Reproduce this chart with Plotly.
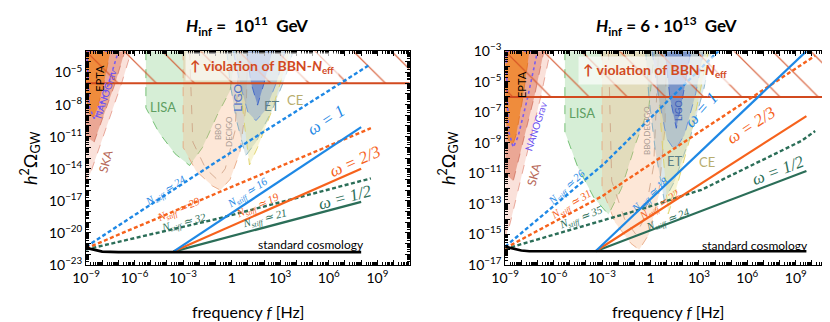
import plotly.graph_objects as go

# ----------------------------- data (log10 values) -----------------------------
# x: log10(f / Hz), y: log10(h^2 Omega_GW)
X_RANGE = [-9, 11]
Y_RANGE_L = [-23, -3]
Y_RANGE_R = [-17, -3]
BBN_LEVEL = -6.0

# left panel  H_inf = 1e11 GeV
L_std_x = [-9, -8.5, -8, -7, 8.0]
L_std_y = [-21.4, -21.6, -21.75, -21.8, -21.8]
L_w1_x, L_w1_y = [-3.6, 8.0], [-21.75, -10.1]
L_w23_x, L_w23_y = [-3.6, 8.0], [-21.75, -14.0]
L_w12_x, L_w12_y = [-3.6, 8.0], [-21.75, -17.1]
L_w1d_x, L_w1d_y = [-9, -0.9, 8.5], [-21.3, -13.3, -4.3]
L_w23d_x, L_w23d_y = [-9, 8.6], [-21.45, -10.2]
L_w12d_x, L_w12d_y = [-9, -0.93, 8.6], [-21.55, -18.7, -14.9]

# right panel  H_inf = 6e13 GeV
R_std_x = [-9, -8.5, -8, -7.5, 9.66]
R_std_y = [-15.8, -15.95, -16.05, -16.1, -16.1]
R_w1_x, R_w1_y = [-3.4, 9.66], [-16.1, -3.0]
R_w23_x, R_w23_y = [-3.4, 9.66], [-16.1, -7.25]
R_w12_x, R_w12_y = [-3.4, 9.66], [-16.1, -10.85]
R_w1d_x, R_w1d_y = [-9, -2.9, 4.2], [-15.8, -10.4, -3.0]
R_w23d_x, R_w23d_y = [-9, -3.0, 3.16, 10.2], [-15.9, -12.5, -8.2, -3.3]
R_w12d_x, R_w12d_y = [-9, -8.36, -0.93, 3.16, 9.35, 10.2], [-16.0, -15.75, -13.46, -12.08, -8.88, -8.23]

# detector sensitivity regions (log10 f, log10 h^2 Omega)
EPTA_x = [-9, -7.5, -7.9, -8.3, -8.55, -8.8, -9]
EPTA_y = [-3, -3, -6, -8.4, -9.2, -8.8, -7]
NANO_x = [-8.95, -7.0, -7.6, -8.2, -8.5, -8.8, -8.95]
NANO_y = [-3, -3, -6, -8.6, -9.3, -8.2, -3]
SKA_x = [-9, -6.2, -6.8, -7.5, -8.2, -8.7, -8.95, -9]
SKA_y = [-3, -3, -6, -9, -12, -14.3, -15.1, -14]
SKAi_x = [-9, -6.6, -7.2, -7.9, -8.5, -9]
SKAi_y = [-3, -3, -6, -9, -11.5, -11]
LISA_x = [-5.3, -5.3, -4.5, -3.5, -2.6, -1.8, -0.9, -0.1, 0.25]
LISA_y = [-3, -8.3, -10.6, -12.6, -13.7, -12.0, -9.0, -6.7, -3]
BBO_x = [-3.0, -3.0, -2.2, -1.2, -0.7, -0.1, 0.5, 0.9, 1.0]
BBO_y = [-3, -12.0, -14.2, -15.6, -16.0, -15.0, -12.5, -8.0, -3]
BBOi_x = [-2.6, -2.4, -1.6, -0.9, -0.4, 0.2, 0.5]
BBOi_y = [-3, -11.5, -14.0, -15.0, -14.0, -10.5, -3]
ET_x = [-0.3, -0.1, 0.3, 0.86, 1.5, 2.5, 3.3, 3.8]
ET_y = [-3, -6, -9.5, -12.8, -11.5, -8.5, -5.5, -3]
CE_x = [0.3, 0.5, 0.8, 1.1, 1.6, 2.5, 3.2, 3.6]
CE_y = [-3, -6, -10, -13.65, -12, -8.5, -5, -3]
LIGO_x = [0.1, 0.5, 1.0, 1.5, 2.1, 2.8, 3.3]
LIGO_y = [-3, -6, -8.7, -9.5, -8.5, -5.8, -3]
LIGOi_x = [0.9, 1.2, 1.6, 2.0, 2.5]
LIGOi_y = [-3, -6, -8.05, -6, -3]

BLUE, ORANGE, GREEN = "#1e88e5", "#f6621c", "#2b6e58"
RED = "#d24a1f"

fig = go.Figure()


def pts(xs, ys):
    return [10 ** v for v in xs], [10 ** v for v in ys]


def region(xs, ys, fill, line, ax, dash="dash", width=1):
    x, y = pts(xs, ys)
    fig.add_trace(go.Scatter(x=x, y=y, mode="lines", fill="toself", fillcolor=fill,
                             line=dict(color=line, width=width, dash=dash),
                             xaxis=ax[0], yaxis=ax[1], showlegend=False, hoverinfo="skip"))


def curve(xs, ys, color, ax, dash="solid", width=2.2):
    x, y = pts(xs, ys)
    fig.add_trace(go.Scatter(x=x, y=y, mode="lines", line=dict(color=color, width=width, dash=dash),
                             xaxis=ax[0], yaxis=ax[1], showlegend=False, hoverinfo="skip"))


panels = [
    (("x", "y"), Y_RANGE_L,
     [(L_std_x, L_std_y), (L_w1_x, L_w1_y), (L_w23_x, L_w23_y), (L_w12_x, L_w12_y),
      (L_w1d_x, L_w1d_y), (L_w23d_x, L_w23d_y), (L_w12d_x, L_w12d_y)]),
    (("x2", "y2"), Y_RANGE_R,
     [(R_std_x, R_std_y), (R_w1_x, R_w1_y), (R_w23_x, R_w23_y), (R_w12_x, R_w12_y),
      (R_w1d_x, R_w1d_y), (R_w23d_x, R_w23d_y), (R_w12d_x, R_w12d_y)]),
]

for ax, yr, lines in panels:
    region(SKA_x, SKA_y, "rgba(240,170,150,0.35)", "rgba(220,120,100,0.6)", ax)
    region(SKAi_x, SKAi_y, "rgba(220,110,80,0.5)", "rgba(200,90,70,0.6)", ax)
    region(EPTA_x, EPTA_y, "rgba(240,135,45,0.85)", "rgba(230,120,40,0.9)", ax)
    region(NANO_x, NANO_y, "rgba(0,0,0,0)", "#7a5cf0", ax, dash="dot", width=1.6)
    region(LISA_x, LISA_y, "rgba(120,200,120,0.3)", "rgba(90,180,90,0.8)", ax)
    region(BBO_x, BBO_y, "rgba(250,185,140,0.35)", "rgba(230,160,120,0.8)", ax)
    region(BBOi_x, BBOi_y, "rgba(0,0,0,0)", "rgba(200,150,120,0.7)", ax)
    region(ET_x, ET_y, "rgba(110,160,170,0.25)", "rgba(100,160,190,0.7)", ax)
    region(CE_x, CE_y, "rgba(230,220,110,0.3)", "rgba(220,205,90,0.8)", ax)
    region(LIGO_x, LIGO_y, "rgba(90,130,215,0.3)", "rgba(80,130,220,0.7)", ax)
    region(LIGOi_x, LIGOi_y, "rgba(50,90,200,0.45)", "rgba(50,90,200,0.8)", ax)
    # BBN hatched region
    bx, by = pts([X_RANGE[0], X_RANGE[1], X_RANGE[1], X_RANGE[0]],
                 [BBN_LEVEL, BBN_LEVEL, yr[1], yr[1]])
    fig.add_trace(go.Scatter(x=bx, y=by, mode="lines", fill="toself", fillcolor="rgba(0,0,0,0)",
                             fillpattern=dict(shape="\\", fgcolor=RED, fgopacity=0.8,
                                              bgcolor="rgba(0,0,0,0)", size=27, solidity=0.045),
                             line=dict(width=0), xaxis=ax[0], yaxis=ax[1],
                             showlegend=False, hoverinfo="skip"))
    curve([X_RANGE[0], X_RANGE[1]], [BBN_LEVEL, BBN_LEVEL], RED, ax, width=2)
    std, w1, w23, w12, w1d, w23d, w12d = lines
    curve(*w12d, GREEN, ax, dash="4px,2.5px", width=2.4)
    curve(*w23d, ORANGE, ax, dash="4px,2.5px", width=2.4)
    curve(*w1d, BLUE, ax, dash="4px,2.5px", width=2.4)
    curve(*w12, GREEN, ax)
    curve(*w23, ORANGE, ax)
    curve(*w1, BLUE, ax)
    curve(*std, "black", ax, width=2.6)


def sup(k):
    if k == 0:
        return "1"
    return "10<sup>" + ("\u2212" + str(-k) if k < 0 else str(k)) + "</sup>"


xt = list(range(X_RANGE[0], X_RANGE[1] + 1))
xaxis_common = dict(type="log", range=X_RANGE, showgrid=False, zeroline=False, automargin=False,
                    showline=True, linecolor="black", linewidth=1, mirror="allticks",
                    ticks="inside", ticklen=5, tickcolor="black",
                    tickvals=[10 ** k for k in xt],
                    ticktext=[sup(k) if k % 3 == 0 and k <= 9 else "" for k in xt],
                    tickfont=dict(family="Lato", size=14, color="black"),
                    minor=dict(ticks="inside", ticklen=2.5, dtick="D1", tickcolor="black", showgrid=False))


def yaxis(yr, labels):
    yt = list(range(yr[0], yr[1] + 1))
    return dict(type="log", range=yr, showgrid=False, zeroline=False, automargin=False,
                showline=True, linecolor="black", linewidth=1, mirror="allticks",
                ticks="inside", ticklen=5, tickcolor="black",
                tickvals=[10 ** k for k in yt],
                ticktext=[sup(k) if k in labels else "" for k in yt],
                tickfont=dict(family="Lato", size=14, color="black"),
                minor=dict(ticks="inside", ticklen=2.5, dtick="D1", tickcolor="black", showgrid=False),
                domain=[0.202, 0.866])


fig.update_layout(
    width=830, height=322, margin=dict(l=0, r=0, t=0, b=0),
    paper_bgcolor="white", plot_bgcolor="white",
    xaxis=dict(xaxis_common, domain=[0.094, 0.484], anchor="y"),
    xaxis2=dict(xaxis_common, domain=[0.599, 0.988], anchor="y2"),
    yaxis=dict(yaxis(Y_RANGE_L, [-5, -8, -11, -14, -17, -20, -23]), anchor="x"),
    yaxis2=dict(yaxis(Y_RANGE_R, [-3, -5, -7, -9, -11, -13, -15, -17]), anchor="x2"),
)

ann = []


def label(ax, x, y, text, color, size=11, angle=0, family="Lato", italic=False, bold=False, **kw):
    d = dict(xref=ax[0], yref=ax[1], x=x, y=y, text=("<b>%s</b>" % text) if bold else text,
             showarrow=False, textangle=angle,
             font=dict(family=family, size=size, color=color, style="italic" if italic else "normal"))
    d.update(kw)
    ann.append(d)


N = "<i>N</i><sub>stiff</sub> \u2243 "
SER = "Liberation Serif"
AL, AR = ("x", "y"), ("x2", "y2")
# left labels
label(AL, -4.07, -16.1, N + "24", BLUE, 11, -33, SER, True)
label(AL, -3.27, -17.9, N + "29", ORANGE, 11, -23, SER, True)
label(AL, -2.96, -19.1, N + "32", GREEN, 11, -14, SER, True)
label(AL, 1.0, -16.3, N + "16", BLUE, 11, -33, SER, True)
label(AL, 1.6, -17.5, N + "19", ORANGE, 11, -24, SER, True)
label(AL, 2.0, -18.7, N + "21", GREEN, 11, -15, SER, True)
label(AL, 5.8, -9.5, "\u03c9 = 1", BLUE, 17, -33, SER, True)
label(AL, 7.6, -13.3, "\u03c9 = 2/3", ORANGE, 17, -24, SER, True)
label(AL, 7.0, -16.7, "\u03c9 = 1/2", GREEN, 17, -15, SER, True)
label(AL, 4.9, -21.1, "standard cosmology", "black", 12)
label(AL, -4.26, -8.2, "LISA", "#5e9e62", 13)
label(AL, -0.5, -10.5, "BBO<br>DECIGO", "#a89a92", 8, -90)
label(AL, 0.37, -7.4, "LIGO", "#4f70c8", 12, -90)
label(AL, 2.5, -8.1, "ET", "#5c7f86", 13)
label(AL, 3.9, -7.6, "CE", "#b8ad6e", 13)
label(AL, -8.15, -5.5, "EPTA", "black", 11, -90)
label(AL, -7.8, -6.9, "NANOGrav", "#6a4ff0", 10, -72)
label(AL, -7.8, -13.3, "SKA", "#b86a5a", 12, -75)
label(AL, 1.9, -4.4, "\u2191 violation of BBN-<i>N</i><sub>eff</sub>", RED, 14, bold=True,
      bgcolor="rgba(255,255,255,0.65)", borderpad=4)
# right labels
label(AR, -5.2, -11.95, N + "26", BLUE, 11, -43, SER, True)
label(AR, -4.9, -13.1, N + "31", ORANGE, 11, -32, SER, True)
label(AR, -4.33, -13.9, N + "35", GREEN, 11, -21, SER, True)
label(AR, 0.0, -12.4, N + "18", BLUE, 11, -43, SER, True)
label(AR, 0.6, -13.1, N + "22", ORANGE, 11, -33, SER, True)
label(AR, 1.1, -14.05, N + "24", GREEN, 11, -21, SER, True)
label(AR, 3.1, -6.86, "\u03c9 = 1", BLUE, 17, -48, SER, True)
label(AR, 6.2, -7.84, "\u03c9 = 2/3", ORANGE, 17, -33, SER, True)
label(AR, 7.9, -10.8, "\u03c9 = 1/2", GREEN, 17, -21, SER, True)
label(AR, 6.5, -15.7, "standard cosmology", "black", 12)
label(AR, -4.27, -7.05, "LISA", "#5e9e62", 13)
label(AR, -0.25, -8.2, "BBO,DECIGO", "#a89a92", 8, -90)
label(AR, 1.73, -6.9, "LIGO", "#3f5fb8", 9, -90)
label(AR, 1.55, -10.2, "ET", "#5c7f86", 13)
label(AR, 3.5, -10.25, "CE", "#b8ad6e", 13)
label(AR, -8.0, -5.2, "EPTA", "black", 11, -90)
label(AR, -7.1, -7.9, "NANOGrav", "#6a4ff0", 10, -72)
label(AR, -7.2, -11.1, "SKA", "#b86a5a", 12, -75)
label(AR, 0.3, -4.3, "\u2191 violation of BBN-<i>N</i><sub>eff</sub>", RED, 14, bold=True,
      bgcolor="rgba(255,255,255,0.65)", borderpad=4)

# titles and axis titles
for xc, t in [(239, "<b><i>H</i><sub>inf</sub> =  10<sup>11</sup>  GeV</b>"),
              (658, "<b><i>H</i><sub>inf</sub> = 6 \u00b7 10<sup>13</sup>  GeV</b>")]:
    ann.append(dict(xref="paper", yref="paper", x=xc / 830, y=1 - 18 / 322, text=t, showarrow=False,
                    xanchor="center", yanchor="middle",
                    font=dict(family="Lato", size=17, color="black")))
for xc in (240, 660):
    ann.append(dict(xref="paper", yref="paper", x=xc / 830, y=1 - 303 / 322,
                    text="frequency <i>f</i> [Hz]", showarrow=False,
                    xanchor="center", yanchor="middle",
                    font=dict(family="Lato", size=16, color="black")))
for xc in (22, 440):
    ann.append(dict(xref="paper", yref="paper", x=xc / 830, y=1 - 150 / 322,
                    text="<i>h</i><sup>2</sup>\u03a9<sub>GW</sub>", showarrow=False, textangle=-90,
                    xanchor="center", yanchor="middle",
                    font=dict(family="Lato", size=18, color="black")))

fig.update_layout(annotations=ann)
fig.write_html("out.html")
